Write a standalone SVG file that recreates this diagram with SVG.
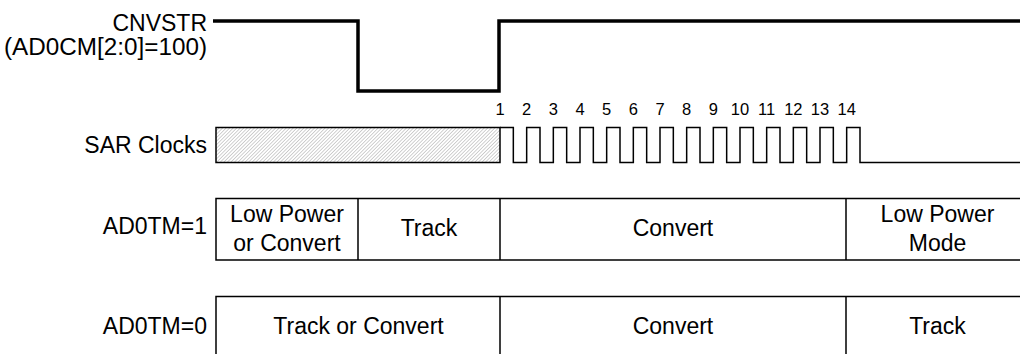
<svg xmlns="http://www.w3.org/2000/svg" width="1020" height="354" viewBox="0 0 1020 354">
  <style>
    text { font-family: "Liberation Sans", Arial, Helvetica, sans-serif; fill: #000; }
    .lbl { font-size: 23px; text-anchor: end; }
    .cell { font-size: 23px; text-anchor: middle; }
    .num { font-size: 16.5px; text-anchor: middle; }
    .thin { fill: none; stroke: #000; stroke-width: 1.5; }
    .thick { fill: none; stroke: #000; stroke-width: 3.5; stroke-linejoin: miter; }
  </style>
  <defs>
    <pattern id="hatch" patternUnits="userSpaceOnUse" width="2.5" height="2.5" patternTransform="rotate(45)">
      <rect width="2.5" height="2.5" fill="#ffffff"/>
      <line x1="0" y1="0" x2="0" y2="2.5" stroke="#9a9a9a" stroke-width="0.9"/>
    </pattern>
  </defs>
  <rect width="1020" height="354" fill="#ffffff"/>

  <g id="label-cnvstr">
    <text class="lbl" x="207" y="31">CNVSTR</text>
    <text class="lbl" x="207" y="55" textLength="203" lengthAdjust="spacingAndGlyphs">(AD0CM[2:0]=100)</text>
  </g>
  <g id="label-sar">
    <text class="lbl" x="207" y="152.5">SAR Clocks</text>
  </g>
  <g id="label-ad0tm1">
    <text class="lbl" x="207" y="233.5">AD0TM=1</text>
  </g>
  <g id="label-ad0tm0">
    <text class="lbl" x="207" y="333.5">AD0TM=0</text>
  </g>

  <g id="connectors">
    <path id="cnvstr-wave" class="thick" d="M213 21 H358 V91 H499 V21 H1020"/>
    <path id="sar-clock-wave" class="thin" d="M500 127.5 H513.33 V162.5 H526.67 V127.5 H540 V162.5 H553.33 V127.5 H566.67 V162.5 H580 V127.5 H593.33 V162.5 H606.67 V127.5 H620 V162.5 H633.33 V127.5 H646.67 V162.5 H660 V127.5 H673.33 V162.5 H686.67 V127.5 H700 V162.5 H713.33 V127.5 H726.67 V162.5 H740 V127.5 H753.33 V162.5 H766.67 V127.5 H780 V162.5 H793.33 V127.5 H806.67 V162.5 H820 V127.5 H833.33 V162.5 H846.67 V127.5 H860 V162.5 H1020"/>
  </g>

  <g id="sar-hatched">
    <rect class="thin" x="216" y="127.5" width="284" height="35" style="fill:url(#hatch)"/>
  </g>

  <g id="clock-numbers">
    <text class="num" x="500" y="115">1</text>
    <text class="num" x="526.67" y="115">2</text>
    <text class="num" x="553.33" y="115">3</text>
    <text class="num" x="580" y="115">4</text>
    <text class="num" x="606.67" y="115">5</text>
    <text class="num" x="633.33" y="115">6</text>
    <text class="num" x="660" y="115">7</text>
    <text class="num" x="686.67" y="115">8</text>
    <text class="num" x="713.33" y="115">9</text>
    <text class="num" x="740" y="115">10</text>
    <text class="num" x="766.67" y="115">11</text>
    <text class="num" x="793.33" y="115">12</text>
    <text class="num" x="820" y="115">13</text>
    <text class="num" x="846.67" y="115">14</text>
  </g>

  <g id="row-ad0tm1">
    <path class="thin" d="M1020 198.5 H216 V260 H1020 M358 198.5 V260 M500 198.5 V260 M846 198.5 V260"/>
    <text class="cell" x="287" y="221.5">Low Power</text>
    <text class="cell" x="287" y="251">or Convert</text>
    <text class="cell" x="429" y="236">Track</text>
    <text class="cell" x="673" y="236">Convert</text>
    <text class="cell" x="937.5" y="221.5">Low Power</text>
    <text class="cell" x="937.5" y="251">Mode</text>
  </g>

  <g id="row-ad0tm0">
    <path class="thin" d="M1020 296.5 H216 V354 M500 296.5 V354 M846 296.5 V354"/>
    <text class="cell" x="358.5" y="333.5">Track or Convert</text>
    <text class="cell" x="673" y="333.5">Convert</text>
    <text class="cell" x="937.5" y="333.5">Track</text>
  </g>
</svg>
